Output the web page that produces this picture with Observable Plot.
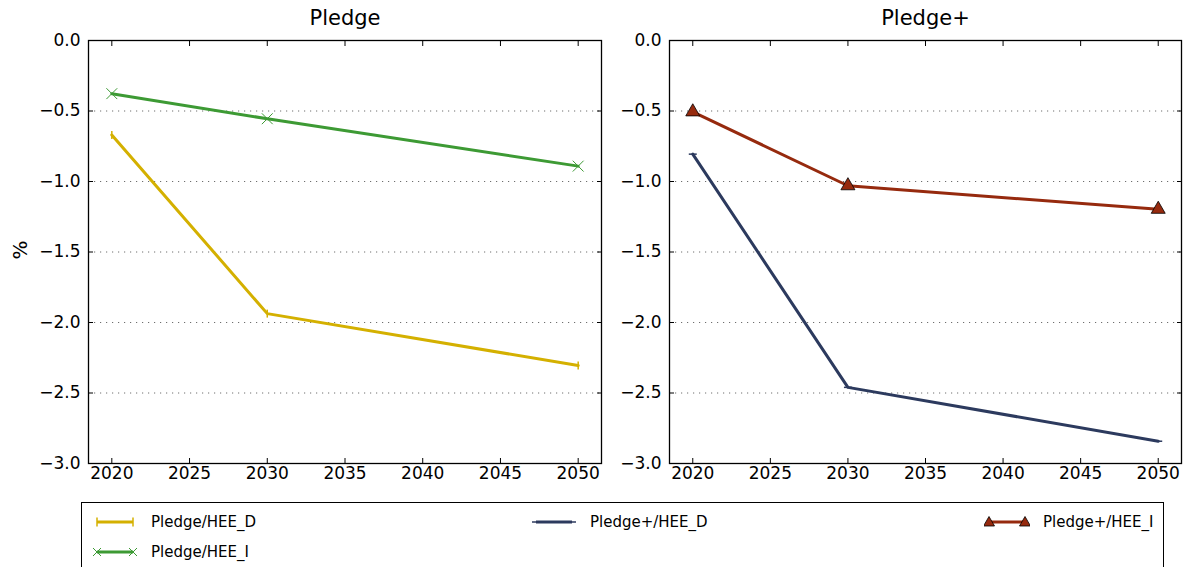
<!DOCTYPE html>
<html>
<head>
<meta charset="utf-8">
<script src="https://cdn.jsdelivr.net/npm/d3@7"></script>
<script src="https://cdn.jsdelivr.net/npm/@observablehq/plot@0.6"></script>
<style>
  body { margin: 0; background: #fff; font-family: "DejaVu Sans", sans-serif; }
  #wrap { position: relative; width: 1189px; height: 567px; overflow: hidden; background: #fff; }
  #wrap svg.plot { position: absolute; top: 0; }
  #ylabel { position: absolute; left: 20px; top: 250px; transform: translate(-50%, -50%) rotate(-90deg); font-size: 20px; color: #000; white-space: nowrap; }
  #legend { position: absolute; left: 81px; top: 502px; width: 1083px; height: 90px; border: 1.3px solid #000; box-sizing: border-box; background: #fff; }
  .item { position: absolute; display: flex; align-items: center; font-size: 15px; color: #000; height: 20px; }
  .item svg { margin-right: 13px; }
</style>
</head>
<body>
<div id="wrap"></div>
<script>
// ---- data ----
const years = [2020, 2030, 2050];
const pledgeHEE_D = [-0.67, -1.937, -2.305];
const pledgeHEE_I = [-0.377, -0.555, -0.891];
const pledgePlusHEE_D = [-0.806, -2.46, -2.842];
const pledgePlusHEE_I = [-0.506, -1.03, -1.197];
const xTicks = [2020, 2025, 2030, 2035, 2040, 2045, 2050];
const yTicks = [0, -0.5, -1, -1.5, -2, -2.5, -3];
const yGrid = [-0.5, -1, -1.5, -2, -2.5];
const panelTitles = ["Pledge", "Pledge+"];
const seriesNames = ["Pledge/HEE_D", "Pledge/HEE_I", "Pledge+/HEE_D", "Pledge+/HEE_I"];
const seriesColors = ["#d4b000", "#3d9a34", "#2c3a5e", "#962a0e"];
const yLabel = "%";

// ---- custom marker symbols ----
const vlineSymbol = { draw(ctx, size) { const r = Math.sqrt(size) / 2; ctx.moveTo(0, -r); ctx.lineTo(0, r); } };
const hlineSymbol = { draw(ctx, size) { const r = Math.sqrt(size) / 2; ctx.moveTo(-r, 0); ctx.lineTo(r, 0); } };

function rows(values) { return years.map((year, i) => ({ year, value: values[i] })); }

const series = [
  { name: seriesNames[0], data: rows(pledgeHEE_D), color: seriesColors[0], marker: { symbol: vlineSymbol, r: 4.5, fill: "none", stroke: seriesColors[0], strokeWidth: 1.5 } },
  { name: seriesNames[1], data: rows(pledgeHEE_I), color: seriesColors[1], marker: { symbol: "times", r: 5, fill: "none", stroke: seriesColors[1], strokeWidth: 1 } },
  { name: seriesNames[2], data: rows(pledgePlusHEE_D), color: seriesColors[2], marker: { symbol: hlineSymbol, r: 4.5, fill: "none", stroke: seriesColors[2], strokeWidth: 1.5 } },
  { name: seriesNames[3], data: rows(pledgePlusHEE_I), color: seriesColors[3], marker: { symbol: "triangle", r: 5.2, fill: seriesColors[3], stroke: "#000", strokeWidth: 0.8 } }
];

function panel(title, list, { width, marginLeft, marginRight, left }) {
  const marks = [
    Plot.gridY(yGrid, { stroke: "#555", strokeOpacity: 0.85, strokeDasharray: "1.2,4.8", strokeWidth: 1 }),
    Plot.axisX(xTicks, { anchor: "bottom", tickSize: -5, tickPadding: 8, fontSize: 17, tickFormat: d => String(d), label: null }),
    Plot.axisX(xTicks, { anchor: "top", tickSize: -5, tickFormat: () => "", label: null }),
    Plot.axisY(yTicks, { anchor: "left", tickSize: -5, tickPadding: 13, fontSize: 17, tickFormat: d3.format(".1f"), label: null }),
    Plot.axisY(yTicks, { anchor: "right", tickSize: -5, tickFormat: () => "", label: null }),
    Plot.text([title], { frameAnchor: "top", dy: -16, fontSize: 21, text: d => d, lineAnchor: "bottom" })
  ];
  for (const s of list) {
    marks.push(Plot.line(s.data, { x: "year", y: "value", stroke: s.color, strokeWidth: 3 }));
    marks.push(Plot.dot(s.data, { x: "year", y: "value", ...s.marker }));
  }
  marks.push(Plot.frame({ stroke: "#000", strokeWidth: 1.3 }));
  const svg = Plot.plot({
    width, height: 490,
    marginLeft, marginRight, marginTop: 40, marginBottom: 27,
    x: { domain: [2018.5, 2051.5], axis: null },
    y: { domain: [-3, 0], axis: null },
    style: { fontFamily: "DejaVu Sans, sans-serif", fontSize: "17px", color: "#000", background: "transparent", overflow: "visible" },
    marks
  });
  svg.classList.add("plot");
  svg.style.left = left + "px";
  return svg;
}

const wrap = document.getElementById("wrap");
wrap.appendChild(panel(panelTitles[0], series.slice(0, 2), { width: 610, marginLeft: 88, marginRight: 9, left: 0 }));
wrap.appendChild(panel(panelTitles[1], series.slice(2, 4), { width: 579, marginLeft: 59, marginRight: 8, left: 610 }));

const yl = document.createElement("div");
yl.id = "ylabel";
yl.textContent = yLabel;
wrap.appendChild(yl);

// ---- legend ----
const legend = document.createElement("div");
legend.id = "legend";
const legendPos = [[10, 9], [10, 39], [449, 9], [902, 9]];
series.forEach((s, i) => {
  const item = document.createElement("div");
  item.className = "item";
  item.style.left = legendPos[i][0] + "px";
  item.style.top = legendPos[i][1] + "px";
  const ns = "http://www.w3.org/2000/svg";
  const sw = document.createElementNS(ns, "svg");
  sw.setAttribute("width", 46); sw.setAttribute("height", 20);
  const ln = document.createElementNS(ns, "line");
  ln.setAttribute("x1", 5); ln.setAttribute("x2", 41); ln.setAttribute("y1", 10); ln.setAttribute("y2", 10);
  ln.setAttribute("stroke", s.color); ln.setAttribute("stroke-width", 3);
  sw.appendChild(ln);
  [5, 41].forEach(cx => {
    const p = document.createElementNS(ns, "path");
    let d;
    if (i === 0) d = `M${cx},5.5L${cx},14.5`;
    else if (i === 1) d = `M${cx - 4},6L${cx + 4},14M${cx - 4},14L${cx + 4},6`;
    else if (i === 2) d = `M${cx - 4},10L${cx + 4},10`;
    else d = `M${cx},4.5L${cx + 5.5},14L${cx - 5.5},14Z`;
    p.setAttribute("d", d);
    p.setAttribute("fill", i === 3 ? s.color : "none");
    p.setAttribute("stroke", i === 3 ? "#000" : s.color);
    p.setAttribute("stroke-width", i === 3 ? 0.8 : (i === 1 ? 1 : 1.5));
    sw.appendChild(p);
  });
  item.appendChild(sw);
  const t = document.createElement("span");
  t.textContent = s.name;
  item.appendChild(t);
  legend.appendChild(item);
});
wrap.appendChild(legend);
</script>
</body>
</html>
